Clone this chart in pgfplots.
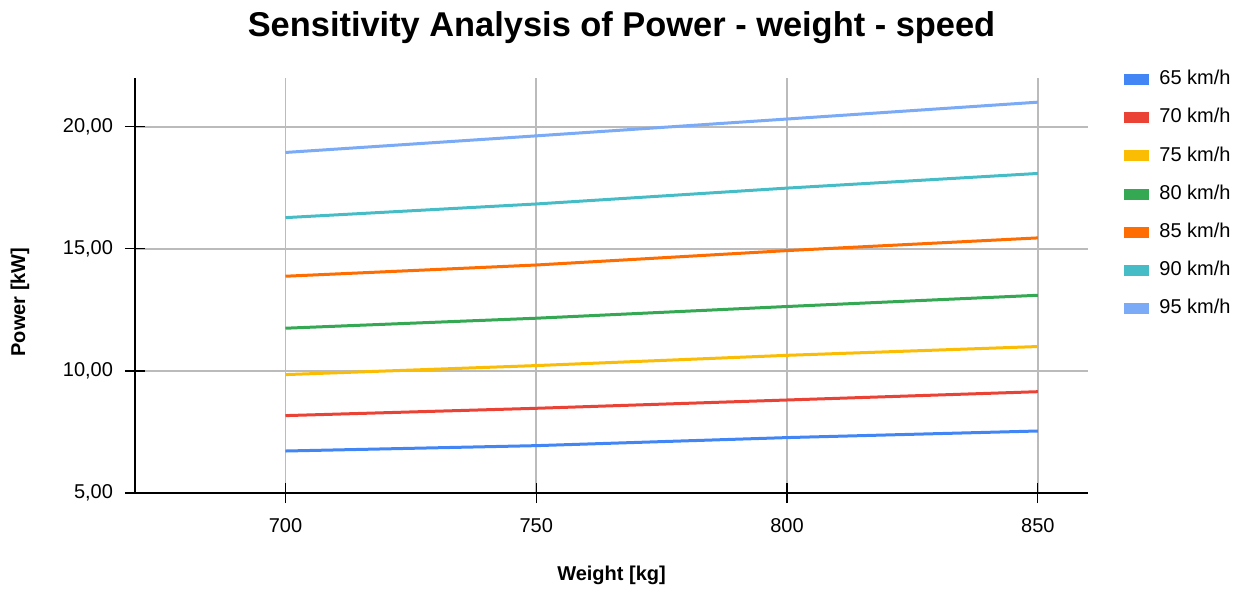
\documentclass[border=0pt]{standalone}
\usepackage{pgfplots}
\pgfplotsset{compat=1.18}
\usepackage{fontspec}
\setmainfont{Liberation Sans}
\definecolor{c65}{HTML}{4285F4}
\definecolor{c70}{HTML}{EA4335}
\definecolor{c75}{HTML}{FBBC04}
\definecolor{c80}{HTML}{34A853}
\definecolor{c85}{HTML}{FF6D01}
\definecolor{c90}{HTML}{46BDC6}
\definecolor{c95}{HTML}{7BAAF7}
\definecolor{gridgray}{RGB}{187,187,187}
\begin{document}
\begin{tikzpicture}
\path[use as bounding box] (0,0) rectangle (625.5pt,295pt);
\node[font=\fontsize{17.2}{20}\selectfont\bfseries] at (310.75pt,281pt) {Sensitivity Analysis of Power - weight - speed};
\begin{axis}[
  at={(67.5pt,48.5pt)}, anchor=south west,
  scale only axis, width=476.5pt, height=207.5pt,
  xmin=670, xmax=860, ymin=5, ymax=22,
  xtick={700,750,800,850}, ytick={5,10,15,20},
  axis x line=bottom, axis y line=left,
  axis line style={-, black, line width=0.6pt},
  tick align=center, major tick length=10pt,
  tick style={black, line width=0.6pt},
  grid=major, major grid style={gridgray, line width=0.9pt},
  /pgf/number format/assume math mode=true,
  yticklabel style={/pgf/number format/.cd, fixed, fixed zerofill, precision=2, use comma, /tikz/.cd, xshift=-2.5pt},
  xticklabel style={/pgf/number format/.cd, fixed, precision=0, 1000 sep={}, /tikz/.cd, yshift=-4pt},
  ticklabel style={font=\fontsize{10}{12}\selectfont},
  xlabel={Weight [kg]}, ylabel={Power [kW]},
  label style={font=\fontsize{10}{12}\selectfont\bfseries},
  xlabel style={at={(axis description cs:0.5,-0.198)}, anchor=center},
  ylabel style={at={(axis description cs:-0.1207,0.46)}, anchor=center},
  legend image code/.code={\fill[#1] (0pt,-2pt) rectangle (11pt,2pt);},
  legend cell align=left,
  legend style={at={(axis description cs:1,1)}, anchor=north west, xshift=15pt, yshift=6.1pt,
    draw=none, fill=none, font=\fontsize{10}{12}\selectfont,
    nodes={inner xsep=0pt, inner ysep=0pt, text height=7.2pt, text depth=2pt},
    row sep=9.9pt,
    /tikz/every odd column/.append style={column sep=5pt}},
  every axis plot/.append style={line width=1.5pt, no markers},
  clip=false
]
\addplot[c65] coordinates {(700,6.72) (750,6.94) (800,7.27) (850,7.54)};
\addlegendentry{65 km/h}
\addplot[c70] coordinates {(700,8.17) (750,8.47) (800,8.81) (850,9.15)};
\addlegendentry{70 km/h}
\addplot[c75] coordinates {(700,9.85) (750,10.22) (800,10.64) (850,11.00)};
\addlegendentry{75 km/h}
\addplot[c80] coordinates {(700,11.75) (750,12.16) (800,12.64) (850,13.10)};
\addlegendentry{80 km/h}
\addplot[c85] coordinates {(700,13.88) (750,14.34) (800,14.93) (850,15.45)};
\addlegendentry{85 km/h}
\addplot[c90] coordinates {(700,16.28) (750,16.84) (800,17.49) (850,18.09)};
\addlegendentry{90 km/h}
\addplot[c95] coordinates {(700,18.95) (750,19.63) (800,20.32) (850,21.01)};
\addlegendentry{95 km/h}
\end{axis}
\end{tikzpicture}
\end{document}
